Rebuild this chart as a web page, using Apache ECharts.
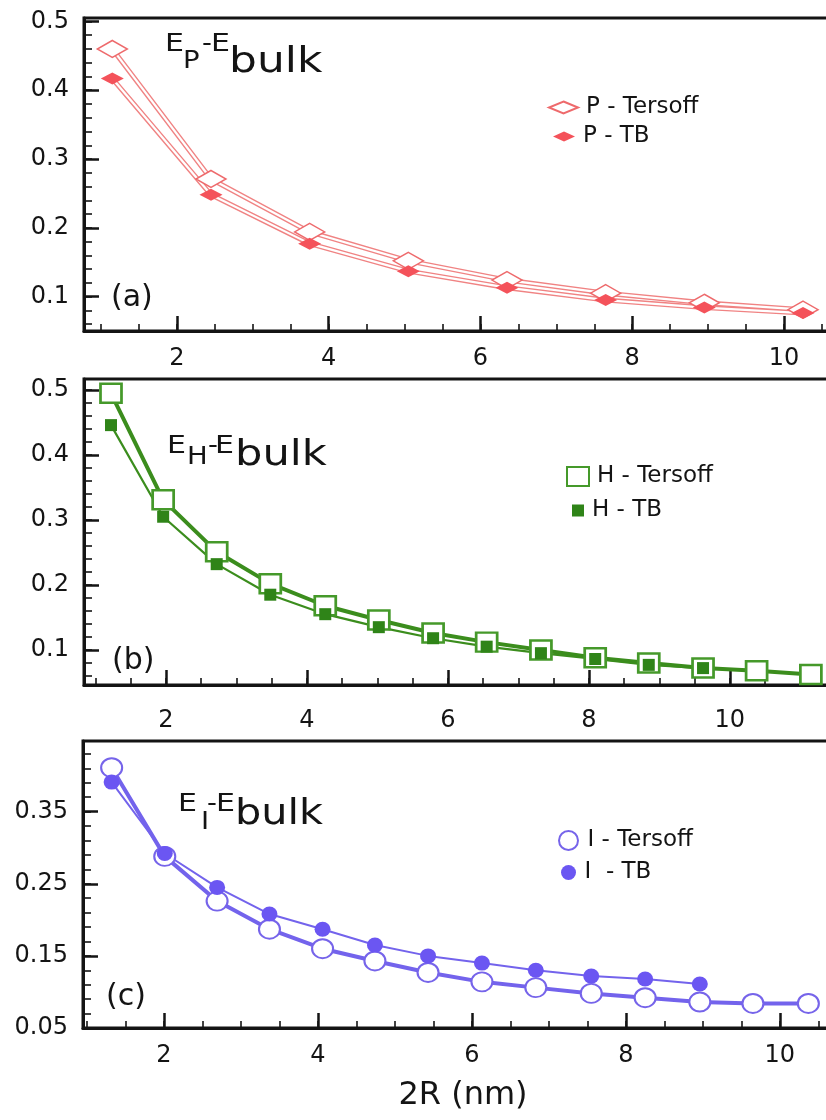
<!DOCTYPE html>
<html>
<head>
<meta charset="utf-8">
<script src="https://cdn.jsdelivr.net/npm/echarts@6/dist/echarts.min.js"></script>
<style>
html,body{margin:0;padding:0;background:#fff;}
#chart{width:826px;height:1120px;}
</style>
</head>
<body>
<div id="chart"></div>
<script>
// ---- data ----
const xP = [1.15, 2.45, 3.75, 5.05, 6.35, 7.65, 8.95, 10.25];
const pTersoff = [0.460, 0.271, 0.194, 0.152, 0.124, 0.105, 0.091, 0.081];
const pTB = [0.417, 0.248, 0.177, 0.137, 0.113, 0.095, 0.084, 0.076];

const xH = [1.22, 1.96, 2.72, 3.48, 4.26, 5.02, 5.79, 6.55, 7.32, 8.09, 8.85, 9.62, 10.38, 11.15];
const hTersoff = [0.495, 0.331, 0.251, 0.202, 0.168, 0.146, 0.126, 0.112, 0.100, 0.088, 0.080, 0.072, 0.068, 0.062];
const hTB = [0.446, 0.305, 0.232, 0.185, 0.155, 0.135, 0.118, 0.105, 0.095, 0.086, 0.077, 0.072];

const xI = [1.32, 2.01, 2.69, 3.37, 4.06, 4.74, 5.43, 6.13, 6.83, 7.55, 8.25, 8.96, 9.65, 10.37];
const iTersoff = [0.411, 0.288, 0.226, 0.187, 0.160, 0.143, 0.127, 0.114, 0.106, 0.098, 0.092, 0.086, 0.084, 0.084];
const iTB = [0.391, 0.292, 0.245, 0.208, 0.187, 0.165, 0.150, 0.140, 0.130, 0.122, 0.118, 0.111];

const legendNames = ['P - Tersoff', 'P - TB', 'H - Tersoff', 'H - TB', 'I - Tersoff', 'I  - TB'];
const xAxisName = '2R (nm)';

// ---- helpers ----
function pairs(xs, ys) { return ys.map((y, i) => [xs[i], y]); }
const FONT = 'DejaVu Sans, Liberation Sans, Arial, sans-serif';
const INK = '#141414';

const grids = [
  {left: 84, top: 18, width: 760, height: 313},
  {left: 84, top: 379, width: 760, height: 306},
  {left: 83, top: 741, width: 760, height: 287}
];
const xRanges = [[0.777, 10.79], [0.837, 11.62], [0.948, 10.82]];
const yRanges = [[0.05, 0.505], [0.046, 0.517], [0.05, 0.448]];
const xLabelMargin = [16, 24, 16];

const xAxes = [], yAxes = [];
grids.forEach((g, i) => {
  xAxes.push({
    type: 'value', gridIndex: i, min: xRanges[i][0], max: xRanges[i][1],
    minInterval: 2, maxInterval: 2,
    axisLine: {show: true, onZero: false, lineStyle: {color: INK, width: 3}},
    axisTick: {show: true, inside: true, length: 15, lineStyle: {color: INK, width: 2.5}},
    axisLabel: {show: true, showMinLabel: false, showMaxLabel: false, margin: xLabelMargin[i],
      fontSize: 24, fontFamily: FONT, color: INK},
    splitLine: {show: false},
    name: i === 2 ? xAxisName : '', nameLocation: 'middle', nameGap: 52,
    nameTextStyle: {fontSize: 32, fontFamily: FONT, color: INK}
  });
  xAxes.push({
    type: 'value', gridIndex: i, min: xRanges[i][0], max: xRanges[i][1],
    minInterval: 0.5, maxInterval: 0.5, position: 'bottom',
    axisLine: {show: false}, axisLabel: {show: false}, splitLine: {show: false},
    axisTick: {show: true, inside: true, length: 7, lineStyle: {color: INK, width: 1.6}}
  });
  const yMain = {
    type: 'value', gridIndex: i, min: yRanges[i][0], max: yRanges[i][1],
    axisLine: {show: true, onZero: false, lineStyle: {color: INK, width: 3}},
    axisTick: {show: true, inside: true, length: 15, lineStyle: {color: INK, width: 2.5}},
    axisLabel: {show: true, showMinLabel: i === 2, showMaxLabel: false, margin: 15,
      fontSize: 24, fontFamily: FONT, color: INK},
    splitLine: {show: false}
  };
  if (i === 2) { yMain.interval = 0.1; } else { yMain.minInterval = 0.1; yMain.maxInterval = 0.1; }
  yAxes.push(yMain);
  const yMinor = {
    type: 'value', gridIndex: i, min: yRanges[i][0], max: yRanges[i][1], position: 'left',
    axisLine: {show: false}, axisLabel: {show: false}, splitLine: {show: false},
    axisTick: {show: true, inside: true, length: 8, lineStyle: {color: INK, width: 1.6}}
  };
  if (i === 2) { yMinor.interval = 0.02; } else { yMinor.minInterval = 0.02; yMinor.maxInterval = 0.02; }
  yAxes.push(yMinor);
});

function lineSeries(name, data, gi, color, width, z) {
  return {type: 'line', name: name, data: data, xAxisIndex: gi * 2, yAxisIndex: gi * 2,
    showSymbol: false, symbol: 'none', silent: true, z: z,
    lineStyle: {color: color, width: width}};
}
function markSeries(name, data, gi, symbol, size, fill, stroke, bw, z) {
  return {type: 'scatter', name: name, data: data, xAxisIndex: gi * 2, yAxisIndex: gi * 2,
    symbol: symbol, symbolSize: size, z: z,
    itemStyle: {color: fill, borderColor: stroke, borderWidth: bw, opacity: 1}};
}

const RED_L = '#f08383', RED_H = '#ee6a6c', RED_F = '#f4525a';
const GRN_L = '#3b8d1d', GRN_H = '#45992a', GRN_F = '#2f8418';
const PUR_L = '#7363ec', PUR_H = '#7664ea', PUR_F = '#6b56f2';

const series = [
  lineSeries('pT-line', pairs(xP, pTersoff), 0, RED_L, 5, 2),
  lineSeries('pT-core', pairs(xP, pTersoff), 0, '#ffffff', 2.2, 3),
  lineSeries('pB-line', pairs(xP, pTB), 0, RED_L, 5, 2),
  lineSeries('pB-core', pairs(xP, pTB), 0, '#ffffff', 2.2, 3),
  markSeries(legendNames[0], pairs(xP, pTersoff), 0, 'diamond', [30, 17], '#ffffff', RED_H, 1.6, 5),
  markSeries(legendNames[1], pairs(xP, pTB), 0, 'diamond', [23, 12], RED_F, RED_F, 0, 6),
  lineSeries('hT-line', pairs(xH, hTersoff), 1, GRN_L, 4, 2),
  lineSeries('hB-line', pairs(xH, hTB), 1, GRN_L, 2.2, 2),
  markSeries(legendNames[2], pairs(xH, hTersoff), 1, 'rect', [21, 19], '#ffffff', GRN_H, 2.6, 5),
  markSeries(legendNames[3], pairs(xH, hTB), 1, 'rect', [12, 12], GRN_F, GRN_F, 0, 6),
  lineSeries('iT-line', pairs(xI, iTersoff), 2, PUR_L, 4, 2),
  lineSeries('iB-line', pairs(xI, iTB), 2, PUR_L, 2, 2),
  markSeries(legendNames[4], pairs(xI, iTersoff), 2, 'circle', [21, 19], '#ffffff', PUR_H, 2, 5),
  markSeries(legendNames[5], pairs(xI, iTB), 2, 'circle', [16, 15], PUR_F, PUR_F, 0, 6)
];

function legendItem(name, left, top, w, h) {
  return {data: [name], left: left, top: top, itemWidth: w, itemHeight: h, orient: 'vertical',
    symbolKeepAspect: false, selectedMode: false, padding: 0,
    textStyle: {fontSize: 23, fontFamily: FONT, color: INK, padding: [0, 0, 0, 3]}};
}
const legends = [
  legendItem(legendNames[0], 548, 96, 29, 12),
  legendItem(legendNames[1], 553, 125, 22, 10),
  legendItem(legendNames[2], 566, 465, 22, 19),
  legendItem(legendNames[3], 572, 499, 12, 12),
  legendItem(legendNames[4], 558, 829, 22, 19),
  legendItem(legendNames[5], 561, 861, 16, 15)
];

function txt(s, x, y, size, sx) {
  return {type: 'text', x: x, y: y, silent: true, scaleX: sx || 1,
    style: {text: s, fontSize: size, fontFamily: FONT, fill: INK, verticalAlign: 'top', align: 'left'}};
}
const graphic = [
  txt('E', 165, 32, 25, 1.2), txt('P', 183, 49, 25, 1.1), txt('-', 202, 32, 25, 1.1), txt('E', 211, 32, 25, 1.2), txt('bulk', 229, 45, 36, 1.22),
  txt('E', 167, 434, 25, 1.2), txt('H', 187, 445, 25, 1.1), txt('-', 208, 434, 25, 1.1), txt('E', 215, 434, 25, 1.2), txt('bulk', 235, 438, 36, 1.2),
  txt('E', 178, 792, 25, 1.2), txt('I', 201, 810, 25, 1.1), txt('-', 207, 792, 25, 1.1), txt('E', 216, 792, 25, 1.2), txt('bulk', 235, 797, 36, 1.15),
  txt('(a)', 111, 283, 30), txt('(b)', 112, 646, 30), txt('(c)', 106, 982, 30)
];

const chart = echarts.init(document.getElementById('chart'), null, {renderer: 'canvas'});
chart.setOption({
  backgroundColor: '#ffffff',
  animation: false,
  grid: grids.map(g => Object.assign({show: true, borderColor: INK, borderWidth: 3,
    backgroundColor: 'transparent', containLabel: false, outerBoundsMode: 'none'}, g)),
  xAxis: xAxes,
  yAxis: yAxes,
  legend: legends,
  series: series,
  graphic: graphic
});
</script>
</body>
</html>
